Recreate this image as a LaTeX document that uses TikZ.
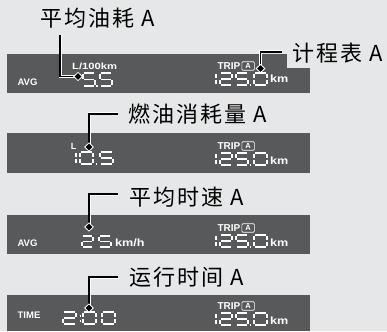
\documentclass[tikz,border=0pt]{standalone}
\usepackage{fontspec}
\setmainfont{Liberation Sans}
\newfontfamily\cjk[LetterSpace=9]{Noto Sans CJK SC}
\usetikzlibrary{shapes.geometric}
\definecolor{bg}{HTML}{E6E7E8}
\definecolor{panel}{HTML}{58595B}
\newcommand\segA{\draw[seg] (0.1,0)--(0.9,0);}
\newcommand\segB{\draw[seg] (1,0.08)--(1,0.44);}
\newcommand\segC{\draw[seg] (1,0.56)--(1,0.92);}
\newcommand\segD{\draw[seg] (0.1,1)--(0.9,1);}
\newcommand\segE{\draw[seg] (0,0.56)--(0,0.92);}
\newcommand\segF{\draw[seg] (0,0.08)--(0,0.44);}
\newcommand\segG{\draw[seg] (0.1,0.5)--(0.9,0.5);}
\newcommand\dgZero{\segA\segB\segC\segD\segE\segF}
\newcommand\dgOne{\segB\segC}
\newcommand\dgTwo{\segA\segB\segG\segE\segD}
\newcommand\dgFive{\segA\segF\segG\segC\segD}
\newcommand\sdig[5]{\begin{scope}[shift={(#1,#2)},xscale=#3,yscale=#4]#5\end{scope}}
\newcommand\odo[1]{%
  \sdig{212}{#1}{4}{12}{\dgOne}
  \sdig{220}{#1}{12}{12}{\dgTwo}
  \sdig{236}{#1}{12}{12}{\dgFive}
  \fill[white] (249.5,#1+11) rectangle ++(1.8,1.8);
  \sdig{254}{#1}{13}{12}{\dgZero}}
\begin{document}
\begin{tikzpicture}[x=1pt,y=-1pt,
  seg/.style={white, line width=1.1pt},
  lab/.style={font=\cjk\fontsize{22}{22}\selectfont, inner sep=0pt, text=black},
  small/.style={text=white, font=\bfseries\fontsize{9}{9}\selectfont, inner sep=0pt},
  boxa/.style={draw=white, text=white, line width=0.7pt, rounded corners=1pt, font=\bfseries\fontsize{7.5}{7.5}\selectfont, inner sep=0pt, minimum width=12.5pt, minimum height=8.5pt},
  leader/.style={line width=1.1pt, black, preaction={draw=white, line width=3pt}},
  dia/.style={diamond, fill=black, draw=white, line width=0.8pt, inner sep=0pt, minimum width=9pt, minimum height=8.5pt}]
\fill[bg] (0,0) rectangle (387,331);
\useasboundingbox (0,0) rectangle (387,331);
% panels
\fill[panel] (7,54) rectangle (310,93);
\fill[panel] (7,133) rectangle (310,173);
\fill[panel] (7,215) rectangle (310,254);
\fill[panel] (7,295) rectangle (310,331);
\fill[bg] (287,40) rectangle (387,68);
% labels
\node[lab] (l1) at (98,18) {平均油耗 A};
\node[lab] (l5) at (338,53) {计程表 A};
\node[lab] (l2) at (198,114) {燃油消耗量 A};
\node[lab] (l3) at (187,197) {平均时速 A};
\node[lab] (l4) at (187,277) {运行时间 A};
% small texts panel 1
\node[small] (avg1) at (27.5,82) {\fontsize{9.5}{9.5}\selectfont AVG};
\node[small, anchor=west] (u1) at (72,66) {\scalebox{1.25}[1]{L/100km}};
% panel 2
\node[small] (lL) at (73.5,146) {L};
% panel 3
\node[small] (avg3) at (27.5,243) {\fontsize{9.5}{9.5}\selectfont AVG};
\node[small, anchor=west] (u3) at (115,243) {\scalebox{1.2}[1]{\fontsize{10.5}{10.5}\selectfont km/h}};
% panel 4
\node[small] (time4) at (29,315.5) {\fontsize{9.5}{9.5}\selectfont TIME};
% TRIP blocks
\foreach \n/\y in {1/66, 2/146, 3/228, 4/306}{
  \node[small, anchor=east] (trip\n) at (240.5,\y) {\fontsize{10}{10}\selectfont TRIP};
  \node[boxa, anchor=west] (ta\n) at (241.5,\y) {A};
}
\foreach \n/\y in {1/79, 2/161, 3/243, 4/321}{
  \node[small, anchor=west] (km\n) at (270,\y) {\scalebox{1.2}[1]{\fontsize{10.5}{10.5}\selectfont km}};
}
% digits
\sdig{83}{73}{12}{13}{\dgFive}
\fill[white] (96,85) rectangle ++(1.8,1.8);
\sdig{100}{73}{12}{13}{\dgFive}
\odo{73}
\sdig{72}{152}{4}{12}{\dgOne}
\sdig{80}{152}{13}{12}{\dgZero}
\fill[white] (95.5,163) rectangle ++(1.8,1.8);
\sdig{100}{152}{13}{12}{\dgFive}
\odo{153}
\sdig{82}{236}{11}{11}{\dgTwo}
\sdig{99}{236}{12}{11}{\dgFive}
\odo{235}
\sdig{63}{312}{13}{12}{\dgTwo}
\fill[white] (79.5,315) rectangle ++(1.6,1.6);
\fill[white] (79.5,320) rectangle ++(1.6,1.6);
\sdig{83}{312}{13}{12}{\dgZero}
\sdig{102}{312}{13}{12}{\dgZero}
\odo{313}
% leaders
\coordinate (p1) at (78,76.5);
\coordinate (p5) at (260.5,68.5);
\coordinate (p2) at (89,147);
\coordinate (p3) at (89,227);
\coordinate (p4) at (89,308);
\coordinate (k1) at (60,35);
\coordinate (k5) at (282,52);
\coordinate (k2) at (118,114);
\coordinate (k3) at (118,194);
\coordinate (k4) at (118,277);
\draw[leader] (k1) |- (p1);
\draw[leader] (p5) |- (k5);
\draw[leader] (k2) -| (p2);
\draw[leader] (k3) -| (p3);
\draw[leader] (k4) -| (p4);
\foreach \n in {1,2,3,4,5}{\node[dia] (dd\n) at (p\n) {};}
\end{tikzpicture}
\end{document}
